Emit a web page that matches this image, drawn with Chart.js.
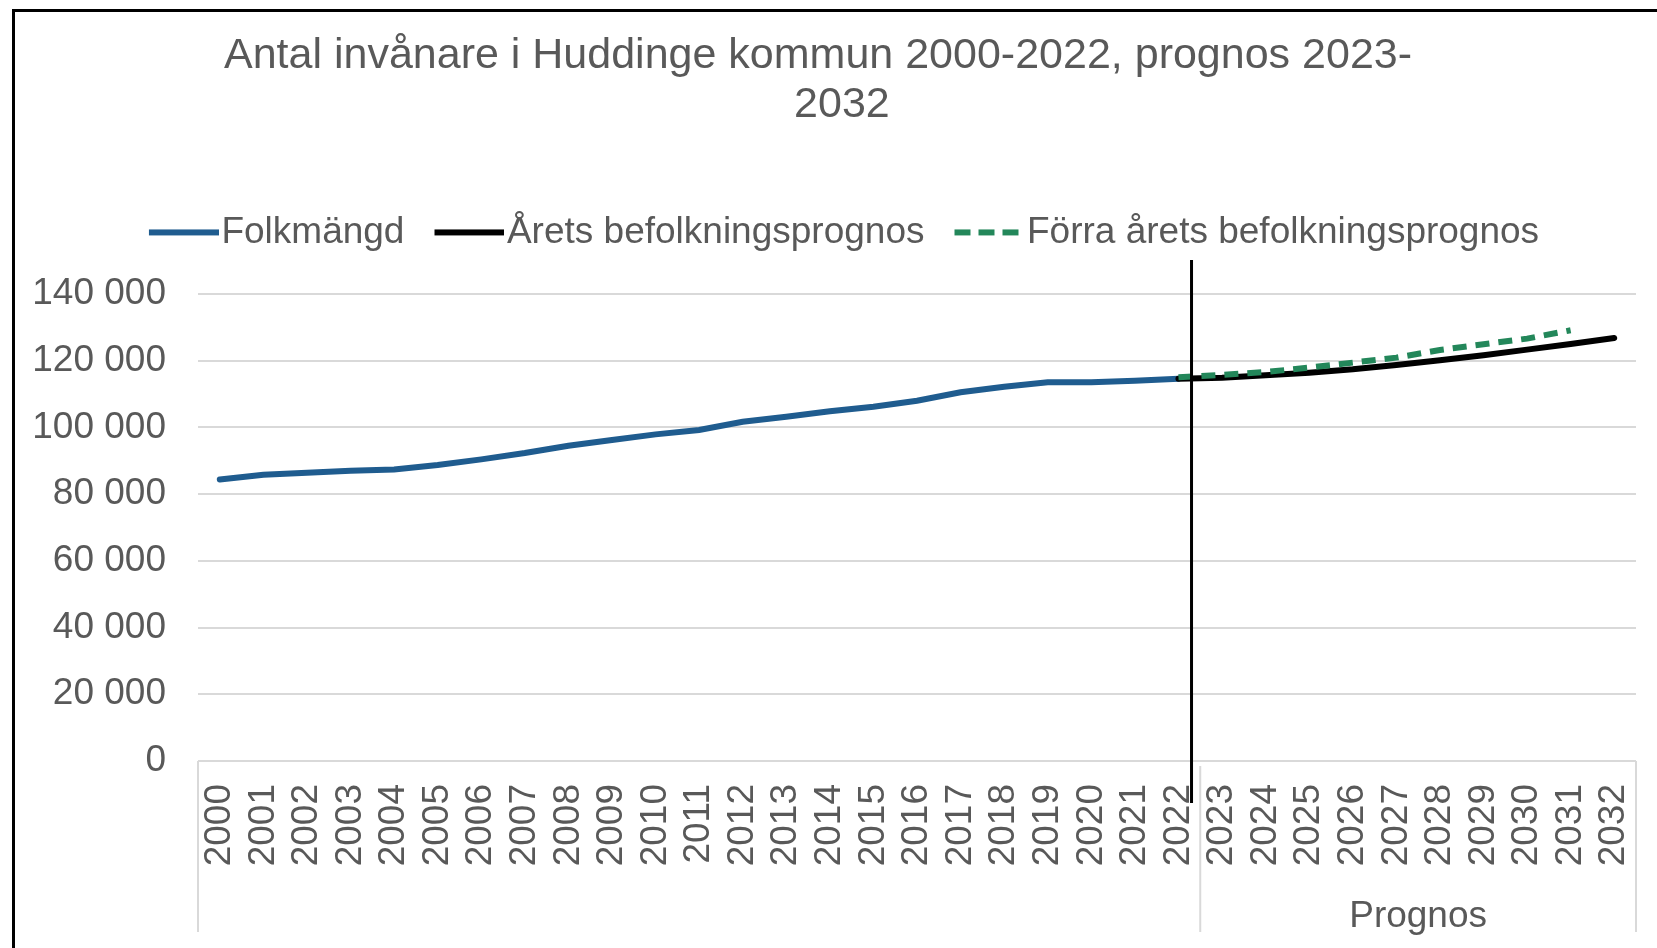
<!DOCTYPE html>
<html lang="sv">
<head>
<meta charset="utf-8">
<title>Antal invånare i Huddinge kommun</title>
<script src="https://cdn.jsdelivr.net/npm/chart.js@4.4.1/dist/chart.umd.min.js"></script>
<style>
  html, body { margin: 0; padding: 0; background: #fff; overflow: hidden; }
  #frame { position: absolute; left: 12px; top: 9px; width: 2000px; height: 2000px; border: 3px solid #000; }
  #wrap { position: absolute; left: 0; top: 0; width: 1657px; height: 948px; }
</style>
</head>
<body>
<div id="frame"></div>
<div id="wrap"><canvas id="popChart"></canvas></div>
<script>
const years = ['2000', '2001', '2002', '2003', '2004', '2005', '2006', '2007', '2008', '2009', '2010',
  '2011', '2012', '2013', '2014', '2015', '2016', '2017', '2018', '2019', '2020', '2021', '2022',
  '2023', '2024', '2025', '2026', '2027', '2028', '2029', '2030', '2031', '2032'];

// Folkmängd 2000-2022
const folkmangd = [84400, 85800, 86400, 87000, 87400, 88700, 90400, 92300, 94500, 96200, 97900,
  99200, 101700, 103200, 104800, 106200, 108000, 110500, 112200, 113500, 113500, 114000, 114600,
  null, null, null, null, null, null, null, null, null, null];

// Årets befolkningsprognos 2022-2032
const aretsPrognos = [null, null, null, null, null, null, null, null, null, null, null,
  null, null, null, null, null, null, null, null, null, null, null, 114600,
  114900, 115600, 116400, 117400, 118700, 120100, 121600, 123300, 125000, 126800];

// Förra årets befolkningsprognos 2022-2031
const forraPrognos = [null, null, null, null, null, null, null, null, null, null, null,
  null, null, null, null, null, null, null, null, null, null, null, 115000,
  115700, 116600, 117900, 119400, 120900, 123200, 124900, 126600, 129100, null];

const yTicks = [0, 20000, 40000, 60000, 80000, 100000, 120000, 140000];

// kategorigrupper under x-axeln
const groups = [
  { label: '', from: '2000', to: '2022' },
  { label: 'Prognos', from: '2023', to: '2032' }
];
const lastActualYear = '2022';

const FONT = "'Liberation Sans', Arial, sans-serif";
const GREY_TEXT = '#595959';
const GRID = '#d9d9d9';
const BLUE = '#1F5C8F';
const GREEN = '#23875A';

function formatThousands(v) {
  return String(v).replace(/\B(?=(\d{3})+(?!\d))/g, ' ');
}

// legendsymbol: linje som börjar vid boxens vänsterkant, så att texten hamnar tätt intill
function legendLine(color, dash, len) {
  const c = document.createElement('canvas');
  c.width = 86;
  c.height = 10;
  const g = c.getContext('2d');
  g.strokeStyle = color;
  g.lineWidth = 6;
  g.setLineDash(dash);
  g.beginPath();
  g.moveTo(16, 5);
  g.lineTo(16 + len, 5);
  g.stroke();
  return c;
}

// ritar gruppavdelare + "Prognos" och den svarta markeringslinjen
const prognosAxisPlugin = {
  id: 'prognosAxis',
  afterLayout(chart) {
    // Excel-legenden ligger lite till höger om mitten
    chart.legend.left += 26;
    chart.legend.right += 26;
  },
  afterDraw(chart) {
    const { ctx, chartArea, scales: { x } } = chart;
    const step = x.getPixelForValue(1) - x.getPixelForValue(0);
    const bottom = chartArea.bottom + 171;

    ctx.save();
    ctx.strokeStyle = GRID;
    ctx.lineWidth = 2;
    groups.forEach((g, i) => {
      const left = x.getPixelForValue(years.indexOf(g.from)) - step / 2;
      const right = x.getPixelForValue(years.indexOf(g.to)) + step / 2;
      ctx.beginPath();
      ctx.moveTo(left, chartArea.bottom + (i === 0 ? 0 : 5));
      ctx.lineTo(left, bottom);
      if (i === groups.length - 1) {
        ctx.moveTo(right, chartArea.bottom);
        ctx.lineTo(right, bottom);
      }
      ctx.stroke();
      if (g.label) {
        ctx.fillStyle = GREY_TEXT;
        ctx.font = '37px ' + FONT;
        ctx.textAlign = 'center';
        ctx.textBaseline = 'middle';
        ctx.fillText(g.label, (left + right) / 2, chartArea.bottom + 156);
      }
    });

    // svart vertikal linje strax efter sista utfallsåret
    const idx = years.indexOf(lastActualYear);
    const lx = x.getPixelForValue(idx) + 0.3 * step;
    ctx.strokeStyle = '#000';
    ctx.lineWidth = 3;
    ctx.beginPath();
    ctx.moveTo(lx, chartArea.top - 34);
    ctx.lineTo(lx, chartArea.bottom + 42);
    ctx.stroke();
    ctx.restore();
  }
};

const ctx = document.getElementById('popChart').getContext('2d');
new Chart(ctx, {
  type: 'line',
  data: {
    labels: years,
    datasets: [{
      label: 'Folkmängd',
      data: folkmangd,
      borderColor: BLUE,
      backgroundColor: BLUE,
      borderWidth: 6,
      borderCapStyle: 'round',
      pointStyle: legendLine(BLUE, [], 70),
      order: 2
    }, {
      label: 'Årets befolkningsprognos',
      data: aretsPrognos,
      borderColor: '#000000',
      backgroundColor: '#000000',
      borderWidth: 6,
      borderCapStyle: 'round',
      pointStyle: legendLine('#000000', [], 70),
      order: 1
    }, {
      label: 'Förra årets befolkningsprognos',
      data: forraPrognos,
      borderColor: GREEN,
      backgroundColor: GREEN,
      borderWidth: 6,
      borderDash: [14, 9],
      pointStyle: legendLine(GREEN, [16, 8], 64),
      order: 0
    }]
  },
  options: {
    responsive: true,
    maintainAspectRatio: false,
    animation: false,
    layout: { padding: { top: 0, right: 21, bottom: 0, left: 0 } },
    elements: {
      point: { radius: 0, hoverRadius: 0 },
      line: { tension: 0 }
    },
    plugins: {
      title: {
        display: true,
        // andra raden ligger något höger om mitten i originalet
        text: ['Antal invånare i Huddinge kommun 2000-2022, prognos 2023-', '\u00A0\u00A0\u00A0\u00A02032'],
        color: GREY_TEXT,
        font: { family: FONT, size: 43, weight: 'normal', lineHeight: 1.15 },
        padding: { top: 31, bottom: 54 }
      },
      legend: {
        display: true,
        position: 'top',
        labels: {
          color: GREY_TEXT,
          font: { family: FONT, size: 37 },
          usePointStyle: true,
          pointStyleWidth: 54,
          boxHeight: 37,
          padding: 30,
          sort: (a, b) => a.datasetIndex - b.datasetIndex
        }
      },
      subtitle: {
        display: true,
        text: '',
        weight: 500,
        font: { size: 10, lineHeight: 1 },
        padding: { top: 0, bottom: 23 }
      },
      tooltip: { enabled: false }
    },
    scales: {
      x: {
        offset: true,
        grid: { display: false, drawTicks: false },
        border: { display: false },
        ticks: {
          color: GREY_TEXT,
          font: { family: FONT, size: 37 },
          minRotation: 90,
          maxRotation: 90,
          autoSkip: false,
          padding: 23
        },
        afterFit(scale) {
          scale.height = 187;
          scale.paddingLeft = 0;
          scale.paddingRight = 0;
        }
      },
      y: {
        min: 0,
        max: 140000,
        grid: { color: GRID, lineWidth: 2, drawTicks: false },
        border: { display: false },
        afterBuildTicks(scale) { scale.ticks = yTicks.map(v => ({ value: v })); },
        ticks: {
          color: GREY_TEXT,
          font: { family: FONT, size: 37 },
          padding: 32,
          callback: v => formatThousands(v)
        },
        afterFit(scale) { scale.width = 198; }
      }
    }
  },
  plugins: [prognosAxisPlugin]
});
</script>
</body>
</html>
